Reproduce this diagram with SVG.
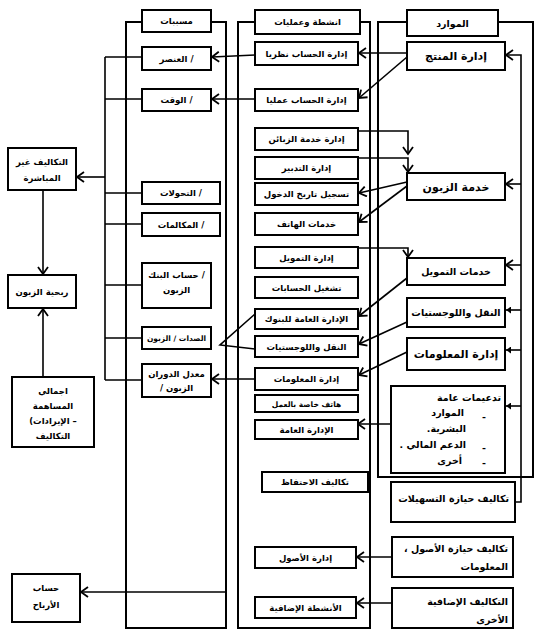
<svg xmlns="http://www.w3.org/2000/svg" width="547" height="644" viewBox="0 0 547 644">
<style>
.b{fill:#fff;stroke:#000;stroke-width:2}
.c{fill:none;stroke:#000;stroke-width:2}
.l{fill:none;stroke:#000;stroke-width:1.6}
text{font-family:"DejaVu Sans","Noto Sans",sans-serif;font-weight:bold;fill:#000;text-anchor:middle}
.s8{font-size:7.5px}
.s9{font-size:8.5px}
.s10{font-size:9.5px}
.s11{font-size:11px}
.r{direction:rtl;text-anchor:start}
</style>
<defs>
<marker id="a" markerWidth="10" markerHeight="12" refX="8" refY="6" orient="auto" markerUnits="userSpaceOnUse"><path d="M1,1 L8,6 L1,11" fill="none" stroke="#000" stroke-width="1.8"/></marker>
<marker id="t" markerWidth="6" markerHeight="7" refX="5" refY="3.5" orient="auto" markerUnits="userSpaceOnUse"><path d="M0,0 L5,3.5 L0,7 Z" fill="#000"/></marker>
</defs>
<rect width="547" height="644" fill="#fff"/>
<g id="columns">
<rect class="c" x="126" y="22" width="100" height="606"/>
<rect class="c" x="238" y="22" width="132" height="606"/>
<rect class="c" x="378" y="22" width="155" height="455"/>
</g>
<g id="connectors">
<path class="l" d="M105,57 V380 M105,57 H142 M105,99 H142 M105,193 H142 M105,224 H142 M105,285 H142 M105,338 H142 M105,380 H142"/>
<line class="l" x1="105" y1="177" x2="77" y2="177" marker-end="url(#a)"/>
<line class="l" x1="43" y1="190" x2="43" y2="274" marker-end="url(#a)"/>
<line class="l" x1="43" y1="377" x2="43" y2="309" marker-end="url(#a)"/>
<line class="l" x1="226" y1="592" x2="81" y2="592" marker-end="url(#a)"/>
<line class="l" x1="255" y1="55" x2="212" y2="57" marker-end="url(#a)"/>
<line class="l" x1="255" y1="99" x2="212" y2="99" marker-end="url(#a)"/>
<line class="l" x1="255" y1="379" x2="212" y2="379" marker-end="url(#a)"/>
<path class="l" d="M255,314 L220,345 L255,349"/>
<line class="l" x1="407" y1="53" x2="359" y2="53" marker-end="url(#a)"/>
<line class="l" x1="407" y1="57" x2="359" y2="98" marker-end="url(#a)"/>
<path class="l" d="M358,131 H408 V154" marker-end="url(#a)"/>
<path class="l" d="M358,158 H408 V172" marker-end="url(#a)"/>
<line class="l" x1="407" y1="182" x2="359" y2="193" marker-end="url(#a)"/>
<line class="l" x1="407" y1="186" x2="359" y2="222" marker-end="url(#a)"/>
<path class="l" d="M358,248 H408 V257" marker-end="url(#a)"/>
<line class="l" x1="407" y1="278" x2="359" y2="316" marker-end="url(#a)"/>
<line class="l" x1="407" y1="322" x2="359" y2="344" marker-end="url(#a)"/>
<line class="l" x1="407" y1="352" x2="359" y2="375" marker-end="url(#a)"/>
<line class="l" x1="391" y1="424" x2="358" y2="424" marker-end="url(#a)"/>
<line class="l" x1="392" y1="557" x2="357" y2="557" marker-end="url(#a)"/>
<line class="l" x1="392" y1="603" x2="357" y2="603" marker-end="url(#a)"/>
<path class="l" d="M515,502 H521 V55 H506" marker-end="url(#a)"/>
<line class="l" x1="521" y1="184" x2="506" y2="184" marker-end="url(#a)"/>
<line class="l" x1="521" y1="265" x2="506" y2="265" marker-end="url(#a)"/>
<line class="l" x1="521" y1="310" x2="506" y2="310" marker-end="url(#t)"/>
<line class="l" x1="521" y1="350" x2="506" y2="350" marker-end="url(#t)"/>
<line class="l" x1="521" y1="406" x2="506" y2="406" marker-end="url(#t)"/>
</g>
<g id="n_causes"><rect class="b" x="142" y="10" width="69" height="22"/><text class="s9" x="176.5" y="24">مسببات</text></g>
<g id="n_element"><rect class="b" x="142" y="47" width="69" height="23"/><text class="s9" x="176.5" y="62">&#x200E;العنصر /</text></g>
<g id="n_time"><rect class="b" x="142" y="89" width="69" height="22"/><text class="s9" x="176.5" y="103">&#x200E;الوقت /</text></g>
<g id="n_transfers"><rect class="b" x="142" y="182" width="78" height="22"/><text class="s9" x="181" y="196">&#x200E;التحولات /</text></g>
<g id="n_calls"><rect class="b" x="142" y="213" width="78" height="23"/><text class="s9" x="181" y="228">&#x200E;المكالمات /</text></g>
<g id="n_bankacc"><rect class="b" x="142" y="263" width="69" height="45"/><text class="s9" x="176.5" y="278">&#x200E;حساب البنك /</text><text class="s9" x="176.5" y="293">الزبون</text></g>
<g id="n_returns"><rect class="b" x="142" y="327" width="69" height="22"/><text class="s8" x="176.5" y="341">الصدات / الزبون</text></g>
<g id="n_turnover"><rect class="b" x="142" y="364" width="69" height="33"/><text class="s9" x="176.5" y="377">معدل الدوران</text><text class="s9" x="176.5" y="391">&#x200E;/ الزبون</text></g>
<g id="n_indirect"><rect class="b" x="8" y="148" width="68" height="42"/><text class="s9" x="42" y="165">التكاليف غير</text><text class="s9" x="42" y="181">المباشرة</text></g>
<g id="n_profitability"><rect class="b" x="8" y="275" width="68" height="33"/><text class="s9" x="42" y="295">ربحية الزبون</text></g>
<g id="n_contribution"><rect class="b" x="12" y="377" width="82" height="70"/><text class="s9" x="53" y="394">اجمالي</text><text class="s9" x="53" y="409">المساهمة</text><text class="s9" x="53" y="424">&#x200E;(الإيرادات –</text><text class="s9" x="53" y="439">التكاليف</text></g>
<g id="n_profits"><rect class="b" x="12" y="574" width="68" height="48"/><text class="s9" x="46" y="591">حساب</text><text class="s9" x="46" y="608">الأرباح</text></g>
<g id="n_activities"><rect class="b" x="255" y="10" width="105" height="24"/><text class="s9" x="307.5" y="25">انشطة وعمليات</text></g>
<g id="n_acc_theory"><rect class="b" x="255" y="42" width="103" height="23"/><text class="s9" x="306.5" y="57">إدارة الحساب نظريا</text></g>
<g id="n_acc_practice"><rect class="b" x="255" y="89" width="103" height="22"/><text class="s9" x="306.5" y="103">إدارة الحساب عمليا</text></g>
<g id="n_custsvc_mgmt"><rect class="b" x="255" y="128" width="103" height="22"/><text class="s9" x="306.5" y="142">إدارة خدمة الزبائن</text></g>
<g id="n_admin"><rect class="b" x="255" y="157" width="103" height="22"/><text class="s9" x="306.5" y="171">إدارة التدبير</text></g>
<g id="n_login"><rect class="b" x="255" y="183" width="103" height="22"/><text class="s9" x="306.5" y="197">تسجيل تاريخ الدخول</text></g>
<g id="n_phone"><rect class="b" x="255" y="213" width="103" height="22"/><text class="s9" x="306.5" y="227">خدمات الهاتف</text></g>
<g id="n_fin_mgmt"><rect class="b" x="255" y="247" width="103" height="21"/><text class="s9" x="306.5" y="261">إدارة التمويل</text></g>
<g id="n_acc_ops"><rect class="b" x="255" y="277" width="103" height="21"/><text class="s9" x="306.5" y="291">تشغيل الحسابات</text></g>
<g id="n_bank_admin"><rect class="b" x="255" y="309" width="103" height="20"/><text class="s9" x="306.5" y="322">الإدارة العامة للبنوك</text></g>
<g id="n_logistics_a"><rect class="b" x="255" y="336" width="103" height="21"/><text class="s9" x="306.5" y="350">النقل واللوجستيات</text></g>
<g id="n_info_a"><rect class="b" x="255" y="368" width="103" height="22"/><text class="s9" x="306.5" y="382">إدارة المعلومات</text></g>
<g id="n_workphone"><rect class="b" x="255" y="395" width="103" height="17"/><text class="s8" x="306.5" y="407">هاتف خاصة بالعمل</text></g>
<g id="n_gen_admin"><rect class="b" x="255" y="420" width="103" height="19"/><text class="s9" x="306.5" y="433">الإدارة العامة</text></g>
<g id="n_retention"><rect class="b" x="262" y="472" width="106" height="20"/><text class="s9" x="315" y="485">تكاليف الاحتفاظ</text></g>
<g id="n_assets_a"><rect class="b" x="255" y="547" width="101" height="21"/><text class="s9" x="305.5" y="561">إدارة الأصول</text></g>
<g id="n_extra_a"><rect class="b" x="255" y="597" width="101" height="21"/><text class="s9" x="305.5" y="611">الأنشطة الإضافية</text></g>
<g id="n_resources"><rect class="b" x="407" y="10" width="91" height="26"/><text class="s10" x="452.5" y="27">الموارد</text></g>
<g id="n_product"><rect class="b" x="407" y="42" width="98" height="28"/><text class="s11" x="456" y="60">إدارة المنتج</text></g>
<g id="n_custsvc"><rect class="b" x="407" y="173" width="98" height="27"/><text class="s11" x="456" y="191">خدمة الزبون</text></g>
<g id="n_finsvc"><rect class="b" x="407" y="258" width="98" height="27"/><text class="s10" x="456" y="275">خدمات التمويل</text></g>
<g id="n_logistics_r"><rect class="b" x="407" y="298" width="98" height="29"/><text class="s10" x="456" y="316">النقل واللوجستيات</text></g>
<g id="n_info_r"><rect class="b" x="407" y="338" width="98" height="32"/><text class="s11" x="456" y="358">إدارة المعلومات</text></g>
<g id="n_support"><rect class="b" x="391" y="386" width="114" height="87"/>
<text class="s10 r" x="501" y="401">تدعيمات عامة</text>
<text class="s10" x="484" y="420">-</text><text class="s10 r" x="464" y="416">الموارد</text>
<text class="s10 r" x="466" y="432">&#x200F;البشرية.</text>
<text class="s10" x="484" y="451">-</text><text class="s10 r" x="466" y="448">&#x200F;الدعم المالي .</text>
<text class="s10" x="484" y="466">-</text><text class="s10 r" x="462" y="464">أخرى</text>
</g>
<g id="n_facilities"><rect class="b" x="391" y="482" width="124" height="40"/><text class="s10 r" x="509" y="502">تكاليف حيازة التسهيلات</text></g>
<g id="n_assets_r"><rect class="b" x="392" y="537" width="121" height="40"/><text class="s10 r" x="508" y="552">&#x200F;تكاليف حيازة الأصول ،</text><text class="s10 r" x="508" y="570">المعلومات</text></g>
<g id="n_extra_r"><rect class="b" x="392" y="588" width="121" height="40"/><text class="s10 r" x="508" y="605">التكاليف الإضافية</text><text class="s10 r" x="508" y="623">الأخرى</text></g>
</svg>
